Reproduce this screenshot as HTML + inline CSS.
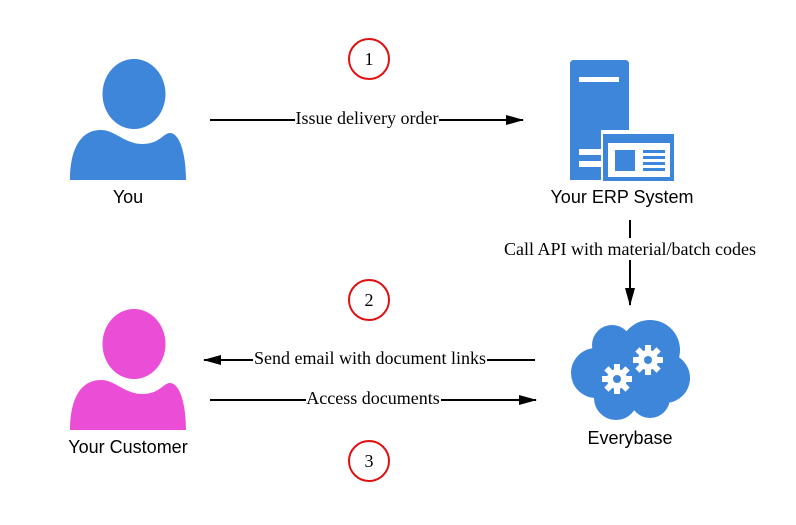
<!DOCTYPE html>
<html><head><style>
body{margin:0;background:#fff;}
svg text{font-family:"Liberation Serif",serif;font-size:18px;}
.s{font-family:"Liberation Sans",sans-serif;font-size:18px;}
</style></head><body>
<svg width="796" height="520" viewBox="0 0 796 520" xmlns="http://www.w3.org/2000/svg">
<defs>
<marker id="a" markerWidth="18" markerHeight="12" refX="17" refY="6" orient="auto" markerUnits="userSpaceOnUse"><path d="M0,1 L18,6 L0,11 Z" fill="#000"/></marker>
<g id="person">
<ellipse cx="134" cy="94" rx="31.5" ry="35"/>
<path d="M70,180 C70,150 80,130 101,130 C115,130 125,144 142,144 C160,144 163,133 170,133 C180,133 186,155 186,180 Z"/>
</g>
<g id="gear">
<circle r="10" fill="#fff"/>
<g fill="#fff"><rect x="-3" y="-15" width="6" height="30"/><rect x="-3" y="-15" width="6" height="30" transform="rotate(45)"/><rect x="-3" y="-15" width="6" height="30" transform="rotate(90)"/><rect x="-3" y="-15" width="6" height="30" transform="rotate(135)"/></g>
<circle r="4" fill="#3d86da"/>
</g>
</defs>
<use href="#person" fill="#3d86da"/>
<use href="#person" fill="#ea4ed6" transform="translate(0,250)"/>
<text class="s" x="128" y="203" text-anchor="middle">You</text>
<text class="s" x="128" y="453" text-anchor="middle">Your Customer</text>
<path d="M570,180 V64 Q570,60 574,60 H625 Q629,60 629,64 V180 Z" fill="#3d86da"/>
<rect x="579" y="77" width="40" height="5" fill="#fff"/>
<rect x="579" y="149" width="26" height="6" fill="#fff"/>
<rect x="579" y="161" width="26" height="6" fill="#fff"/>
<rect x="601" y="130" width="74" height="52" fill="#fff"/>
<rect x="603" y="134" width="71" height="47" fill="#3d86da"/>
<rect x="608" y="143" width="62" height="34" fill="#fff"/>
<rect x="615" y="150" width="20" height="21" fill="#3d86da"/>
<g fill="#3d86da"><rect x="643" y="150" width="22" height="3"/><rect x="643" y="156" width="22" height="3"/><rect x="643" y="162" width="22" height="3"/><rect x="643" y="168" width="22" height="3"/></g>
<text class="s" x="622" y="203" text-anchor="middle">Your ERP System</text>
<g fill="#3d86da">
<circle cx="650" cy="350" r="30"/><circle cx="612" cy="345" r="20"/><circle cx="596" cy="373" r="25"/><circle cx="665" cy="378" r="25"/><circle cx="616" cy="398" r="22"/><circle cx="650" cy="398" r="20"/><rect x="600" y="350" width="70" height="50"/>
</g>
<use href="#gear" transform="translate(617,379)"/>
<use href="#gear" transform="translate(648,360)"/>
<text class="s" x="630" y="444" text-anchor="middle">Everybase</text>
<g fill="#fff" stroke="#e01010" stroke-width="2"><circle cx="369" cy="59" r="20"/><circle cx="369" cy="300" r="20"/><circle cx="369" cy="461" r="20"/></g>
<text x="369" y="65" text-anchor="middle">1</text>
<text x="369" y="306" text-anchor="middle">2</text>
<text x="369" y="467" text-anchor="middle">3</text>
<g stroke="#000" stroke-width="2" fill="none">
<line x1="210" y1="120" x2="523" y2="120" marker-end="url(#a)"/>
<line x1="630" y1="220" x2="630" y2="305" marker-end="url(#a)"/>
<line x1="535" y1="360" x2="204" y2="360" marker-end="url(#a)"/>
<line x1="210" y1="400" x2="536" y2="400" marker-end="url(#a)"/>
</g>
<g fill="#fff"><rect x="295" y="108" width="144" height="22"/><rect x="503" y="238" width="254" height="22"/><rect x="253" y="348" width="234" height="22"/><rect x="306" y="388" width="135" height="22"/></g>
<text x="367" y="124" text-anchor="middle">Issue delivery order</text>
<text x="630" y="255" text-anchor="middle">Call API with material/batch codes</text>
<text x="370" y="364" text-anchor="middle">Send email with document links</text>
<text x="373" y="404" text-anchor="middle">Access documents</text>
</svg>
</body></html>
